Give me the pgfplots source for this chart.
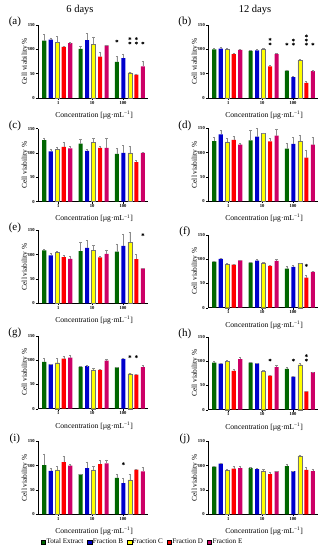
\documentclass[border=0pt]{standalone}
\usepackage{fontspec}
\setmainfont{Liberation Serif}
\usepackage{pgfplots}
\usepackage{pgfplotstable}
\pgfplotsset{compat=1.18}

\definecolor{cg}{RGB}{0,102,0}
\definecolor{cb}{RGB}{0,0,204}
\definecolor{cy}{RGB}{255,255,0}
\definecolor{cr}{RGB}{255,0,0}
\definecolor{cm}{RGB}{204,0,102}

% columns: conc, Total Extract, Fraction B..E, each with upper error
\pgfplotstableread{
conc te teE fb fbE fc fcE fd fdE fe feE
0 118 13 120 4 114 13 105 2 113 1
1 101 6 119 14 110 16 85 10 108 1.5
2 74 11 82 9 52 2 48 2 65 10
}\tA
\pgfplotstableread{
conc te teE fb fbE fc fcE fd fdE fe feE
0 100 2 101.5 2 100 2 90 2 99 1
1 97 1.5 98 1.5 100 3 65 2 90 1.5
2 56.5 1.5 43 1.5 77.5 2 31 3 55 1.5
}\tB
\pgfplotstableread{
conc te teE fb fbE fc fcE fd fdE fe feE
0 126 5 103 5 107.5 4.5 112 9 109 4
1 119 9.5 104 4 122 8 110 3 110 20
2 98 11 100 16 100 13 81 4 100 1
}\tC
\pgfplotstableread{
conc te teE fb fbE fc fcE fd fdE fe feE
0 123.5 9 137.5 9 122 7 126 8 116.5 3.5
1 125 21 133 17 139.5 1.5 123 6 135 14
2 108 12 118 14 124 12 90 16 116.5 16
}\tD
\pgfplotstableread{
conc te teE fb fbE fc fcE fd fdE fe feE
0 109 2 98.5 4.5 105 2 95 3.5 91.5 4.5
1 107 18.5 114 15.5 109.5 9 94.5 1.5 101.5 8.5
2 106 16.5 118 24.5 125.5 20.5 91 9 72 0.5
}\tE
\pgfplotstableread{
conc te teE fb fbE fc fcE fd fdE fe feE
0 94.5 1 100.5 1 90 1 88.5 1 97.5 1
1 92.5 1 96.5 3 92.5 1 86 1 96 4
2 80.5 4.5 84 3 91.5 1 62 5 73.5 1
}\tF
\pgfplotstableread{
conc te teE fb fbE fc fcE fd fdE fe feE
0 96 7.5 91 1 94.5 9 103 4 105 5
1 86 1 87.5 1 80 4 80 1.5 99 3.5
2 85 1 102.5 1 72 1 70 1 85.5 4
}\tG
\pgfplotstableread{
conc te teE fb fbE fc fcE fd fdE fe feE
0 97 2 94.5 1 99.5 1.5 80 2.5 104 3
1 96.5 1 95 1 79 1.5 70 1.5 87.5 3.5
2 84 3.5 68 1 92.5 3.5 37.5 1.5 77 1
}\tH
\pgfplotstableread{
conc te teE fb fbE fc fcE fd fdE fe feE
0 101 23.5 89.5 4.5 91.5 6.5 107 13 100 3
1 82.5 1 95 13 91.5 6.5 103 8 104.5 7.5
2 75 8 64 11 71 11.5 92 1 88 8
}\tI
\pgfplotstableread{
conc te teE fb fbE fc fcE fd fdE fe feE
0 98 1 104 2 91 2.5 94 4 95 3
1 95 1 93 2 89.5 3.5 82.5 3.5 88.5 1
2 99 3.5 88.5 1 120 2.5 91.5 4.5 88.5 5
}\tJ

\pgfplotsset{
  mybar/.style={ybar, bar shift=0pt, bar width=0.112, draw=none,
    error bars/y dir=plus, error bars/y explicit,
    error bars/error bar style={black!45, line width=0.3pt},
    error bars/error mark options={rotate=90, black!45, mark size=1.1pt, line width=0.3pt}},
  stars/.style={only marks, mark=asterisk, mark size=1.5pt, black, line width=0.55pt},
  panel/.style={
    scale only axis, width=110pt, height=73pt, anchor=south west,
    xmin=-0.53, xmax=2.5, ymin=0, ymax=150,
    axis x line*=bottom, axis y line*=left,
    axis line style={black, line width=0.5pt},
    xtick={0.03,0.96,1.81}, xticklabels={1,10,100},
    ytick={0,50,100,150},
    tick align=outside, major tick length=2pt,
    tick style={black, line width=0.4pt},
    /pgf/number format/assume math mode=true,
    ticklabel style={font=\fontsize{4.6}{5}\selectfont\bfseries},
    yticklabel style={inner sep=1pt},
    xticklabel style={inner sep=1pt},
    xlabel={Concentration [µg·mL\textsuperscript{−1}]},
    xlabel style={font=\fontsize{7.6}{8}\selectfont, at={(axis description cs:0.51,-0.233)}, anchor=center},
    ylabel={Cell viability \%},
    ylabel style={font=\fontsize{7.4}{8}\selectfont, at={(axis description cs:-0.118,0.5)}, anchor=center},
    clip=false,
  },
}
\newcommand\bars[1]{%
  \addplot[mybar, fill=cg] table[x expr=\thisrow{conc}-0.358, y=te, y error=teE] {#1};
  \addplot[mybar, fill=cb] table[x expr=\thisrow{conc}-0.179, y=fb, y error=fbE] {#1};
  \addplot[mybar, fill=cy, draw=black!55, line width=0.25pt] table[x=conc, y=fc, y error=fcE] {#1};
  \addplot[mybar, fill=cr] table[x expr=\thisrow{conc}+0.179, y=fd, y error=fdE] {#1};
  \addplot[mybar, fill=cm] table[x expr=\thisrow{conc}+0.358, y=fe, y error=feE] {#1};
}
\newcommand\plabel[1]{\node[font=\fontsize{11}{12}\selectfont] at (rel axis cs:-0.21,1.04) {(#1)};}

\begin{document}
\begin{tikzpicture}
\useasboundingbox (0,0) rectangle (329pt,-550pt);
\node[font=\fontsize{10.5}{12}\selectfont] at (80pt,-10pt) {6 days};
\node[font=\fontsize{10.5}{12}\selectfont] at (255pt,-10pt) {12 days};

% (a)
\begin{axis}[panel, at={(38pt,-98pt)}]
\bars{\tA}
\addplot[stars] coordinates {(1.642,117) (2,122) (2,113) (2.179,122) (2.179,113) (2.358,113)};
\plabel{a}
\end{axis}
% (b)
\begin{axis}[panel, at={(208pt,-98pt)}]
\bars{\tB}
\addplot[stars] coordinates {(1.179,120.5) (1.179,111) (1.642,110.5) (1.821,119) (1.821,110.5) (2.179,127.5) (2.179,119) (2.179,110.5) (2.358,110.5)};
\plabel{b}
\end{axis}
% (c)
\begin{axis}[panel, at={(38pt,-201.5pt)}]
\bars{\tC}
\plabel{c}
\end{axis}
% (d)
\begin{axis}[panel, at={(208pt,-201.3pt)}]
\bars{\tD}
\plabel{d}
\end{axis}
% (e)
\begin{axis}[panel, at={(38pt,-303.3pt)}]
\bars{\tE}
\addplot[stars] coordinates {(2.358,141)};
\plabel{e}
\end{axis}
% (f)
\begin{axis}[panel, at={(208pt,-307.7pt)}]
\bars{\tF}
\addplot[stars] coordinates {(2.179,87)};
\plabel{f}
\end{axis}
% (g)
\begin{axis}[panel, at={(38pt,-408.7pt)}]
\bars{\tG}
\addplot[stars] coordinates {(2,107) (2.179,107)};
\plabel{g}
\end{axis}
% (h)
\begin{axis}[panel, at={(208pt,-409.7pt)}]
\bars{\tH}
\addplot[stars] coordinates {(1.179,102) (1.821,102) (2.179,111) (2.179,102)};
\plabel{h}
\end{axis}
% (i)
\begin{axis}[panel, at={(38pt,-514.3pt)},
  legend columns=5,
  legend style={at={(axis description cs:0.027,-0.379)}, anchor=west, draw=none, fill=none,
    inner sep=0pt, outer sep=0pt, font=\fontsize{7.1}{8}\selectfont,
    /tikz/every even column/.append style={column sep=3pt},
    nodes={inner sep=1pt}},
  legend image code/.code={\draw[#1, draw=black, line width=0.2pt] (0pt,-2.2pt) rectangle (4.4pt,2.2pt);}]
\bars{\tI}
\addlegendentry{Total Extract}
\addlegendentry{Fraction B}
\addlegendentry{Fraction C}
\addlegendentry{Fraction D}
\addlegendentry{Fraction E}
\addplot[stars, forget plot] coordinates {(1.821,104)};
\plabel{i}
\end{axis}
% (j)
\begin{axis}[panel, at={(208pt,-514.3pt)}]
\bars{\tJ}
\plabel{j}
\end{axis}
\end{tikzpicture}
\end{document}
